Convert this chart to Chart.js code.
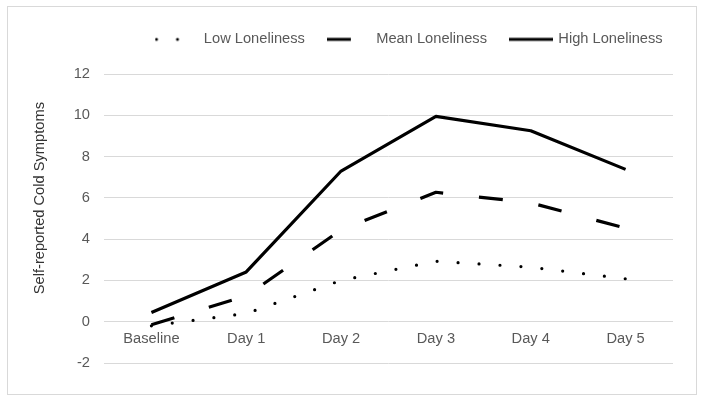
<!DOCTYPE html>
<html>
<head>
<meta charset="utf-8">
<script src="https://cdn.jsdelivr.net/npm/chart.js@4"></script>
<style>
  html, body { margin: 0; padding: 0; background: #fff; }
  #wrap { width: 704px; height: 403px; }
</style>
</head>
<body>
<div id="wrap"><canvas id="chart" width="704" height="403"></canvas></div>
<script>
// data
const days = ['Baseline', 'Day 1', 'Day 2', 'Day 3', 'Day 4', 'Day 5'];
const lowLoneliness = [-0.2, 0.4, 2.0, 2.93, 2.64, 2.08];
const meanLoneliness = [-0.15, 1.25, 4.45, 6.27, 5.76, 4.53];
const highLoneliness = [0.45, 2.41, 7.3, 9.95, 9.25, 7.38];
const yTicks = [-2, 0, 2, 4, 6, 8, 10, 12];

const FONT = 'Liberation Sans, Arial, sans-serif';
const GREY = '#595959';

// small legend icons, drawn like the line styles
function legendIcon(dash, cap, startX) {
  const c = document.createElement('canvas');
  c.width = 44;
  c.height = 8;
  const g = c.getContext('2d');
  g.strokeStyle = '#000';
  g.lineWidth = 3;
  g.lineCap = cap;
  g.setLineDash(dash);
  g.beginPath();
  g.moveTo(startX, 4);
  g.lineTo(startX === 0 ? 44 : 42, 4);
  g.stroke();
  return c;
}

// light grey frame round the whole chart
const frame = {
  id: 'frame',
  beforeDraw(chart) {
    const ctx = chart.ctx;
    ctx.save();
    ctx.fillStyle = '#fff';
    ctx.fillRect(0, 0, chart.width, chart.height);
    ctx.strokeStyle = '#d9d9d9';
    ctx.lineWidth = 1;
    ctx.strokeRect(7.5, 6.5, 689, 388);
    ctx.restore();
  }
};

// legend placement tweaks (height + left edge)
const legendPlace = {
  id: 'legendPlace',
  afterInit(chart) {
    const lg = chart.legend;
    const fit = lg.fit;
    lg.fit = function () {
      fit.call(this);
      this.height = 66;
    };
  },
  afterLayout(chart) {
    const lg = chart.legend;
    lg.left = 132.5;
    lg.right = chart.width;
    lg.width = lg.right - lg.left;
  }
};

const ctx = document.getElementById('chart').getContext('2d');
new Chart(ctx, {
  type: 'line',
  data: {
    labels: days,
    datasets: [
      {
        label: 'Low Loneliness',
        data: lowLoneliness,
        borderColor: '#000',
        borderWidth: 3.2,
        borderDash: [0, 21],
        borderCapStyle: 'round',
        borderJoinStyle: 'round',
        pointStyle: legendIcon([0, 21], 'round', 2),
        pointRadius: 0,
        tension: 0,
        fill: false
      },
      {
        label: 'Mean Loneliness',
        data: meanLoneliness,
        borderColor: '#000',
        borderWidth: 3.2,
        borderDash: [24, 36],
        borderCapStyle: 'butt',
        borderJoinStyle: 'round',
        pointStyle: legendIcon([24, 36], 'butt', 0),
        pointRadius: 0,
        tension: 0,
        fill: false
      },
      {
        label: 'High Loneliness',
        data: highLoneliness,
        borderColor: '#000',
        borderWidth: 3.2,
        borderCapStyle: 'butt',
        borderJoinStyle: 'round',
        pointStyle: legendIcon([], 'butt', 0),
        pointRadius: 0,
        tension: 0,
        fill: false
      }
    ]
  },
  options: {
    responsive: false,
    animation: false,
    devicePixelRatio: 1,
    layout: { padding: { top: 8, right: 31, bottom: 40, left: 0 } },
    plugins: {
      legend: {
        position: 'top',
        align: 'start',
        labels: {
          usePointStyle: true,
          pointStyleWidth: 40,
          padding: 24,
          color: GREY,
          font: { family: FONT, size: 14.67 }
        }
      },
      tooltip: { enabled: false }
    },
    scales: {
      x: {
        type: 'category',
        position: { y: 0 },
        offset: true,
        grid: { display: false, drawTicks: false },
        border: { display: false },
        ticks: { color: GREY, padding: 8, font: { family: FONT, size: 14.67 } }
      },
      y: {
        min: -2,
        max: 12,
        afterFit(scale) { scale.width = 104; },
        afterBuildTicks(scale) { scale.ticks = yTicks.map(v => ({ value: v })); },
        grid: { color: '#d9d9d9', lineWidth: 1, drawTicks: false },
        border: { display: false },
        ticks: { color: GREY, padding: 14, font: { family: FONT, size: 14.67 } },
        title: {
          display: true,
          text: '          Self-reported Cold Symptoms',
          color: '#333',
          padding: { top: 31, bottom: 0 },
          font: { family: FONT, size: 14.67 }
        }
      }
    }
  },
  plugins: [frame, legendPlace]
});
</script>
</body>
</html>
